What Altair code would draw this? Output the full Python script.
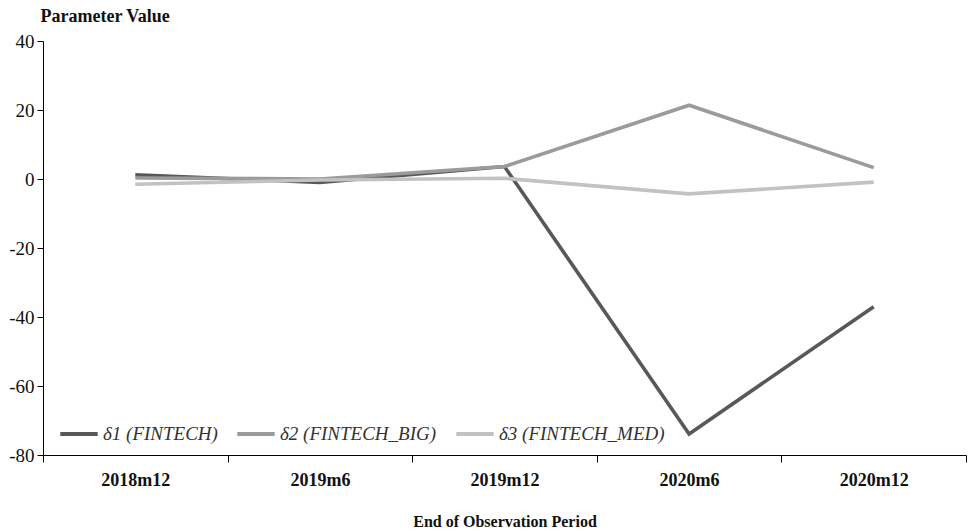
import altair as alt
import pandas as pd

# Observation periods (x categories)
periods = ["2018m12", "2019m6", "2019m12", "2020m6", "2020m12"]

# Estimated coefficients per series
series_names = ["δ1 (FINTECH)", "δ2 (FINTECH_BIG)", "δ3 (FINTECH_MED)"]
delta1 = [1.2, -1.0, 3.6, -73.9, -37.0]
delta2 = [0.3, 0.0, 3.6, 21.4, 3.3]
delta3 = [-1.5, -0.3, 0.2, -4.3, -0.9]

series_colors = ["#58585a", "#9b9b9e", "#c2c2c5"]

y_ticks = [-80, -60, -40, -20, 0, 20, 40]

rows = []
for name, vals in zip(series_names, [delta1, delta2, delta3]):
    for p, v in zip(periods, vals):
        rows.append({"period": p, "value": v, "series": name})
df = pd.DataFrame(rows)

SERIF = "Liberation Serif"

chart = (
    alt.Chart(df)
    .mark_line(strokeWidth=3.6, strokeCap="butt")
    .encode(
        x=alt.X(
            "period:N",
            sort=periods,
            scale=alt.Scale(type="band", paddingInner=0, paddingOuter=0),
            axis=alt.Axis(
                title="End of Observation Period",
                labelAngle=0,
                tickBand="extent",
                tickSize=7,
                tickColor="#000000",
                domainColor="#000000",
                labelFont=SERIF,
                labelFontSize=18,
                labelFontWeight="bold",
                labelColor="#111111",
                labelBaseline="middle",
                labelPadding=18,
                titleFont=SERIF,
                titleFontSize=16,
                titleFontWeight="bold",
                titleColor="#111111",
                titleBaseline="alphabetic",
                titleY=71,
            ),
        ),
        y=alt.Y(
            "value:Q",
            scale=alt.Scale(domain=[-80, 40], nice=False, zero=False),
            axis=alt.Axis(
                values=y_ticks,
                grid=False,
                title="Parameter Value",
                titleAngle=0,
                titleAlign="left",
                titleBaseline="alphabetic",
                titleX=-3,
                titleY=-20,
                titleFont=SERIF,
                titleFontSize=18,
                titleFontWeight="bold",
                titleColor="#111111",
                labelFont=SERIF,
                labelFontSize=19,
                labelColor="#111111",
                labelExpr="datum.value + ''",
                tickSize=6,
                labelPadding=3,
                tickColor="#000000",
                domainColor="#000000",
            ),
        ),
        color=alt.Color(
            "series:N",
            sort=series_names,
            scale=alt.Scale(domain=series_names, range=series_colors),
            legend=alt.Legend(
                title=None,
                orient="none",
                direction="horizontal",
                legendX=15,
                legendY=372,
                symbolType="stroke",
                symbolSize=1400,
                symbolStrokeWidth=4,
                labelFont=SERIF,
                labelFontSize=19,
                labelFontStyle="italic",
                labelColor="#333333",
                labelOffset=3,
                labelLimit=400,
                columnPadding=11,
            ),
        ),
    )
    .properties(
        width=923,
        height=414,
        autosize=alt.AutoSizeParams(type="none"),
        padding={"left": 43, "top": 41, "right": 3, "bottom": 76},
        background="#ffffff",
    )
    .configure_view(stroke=None)
)

chart.save("out.html", embed_options={"renderer": "svg", "actions": False})
